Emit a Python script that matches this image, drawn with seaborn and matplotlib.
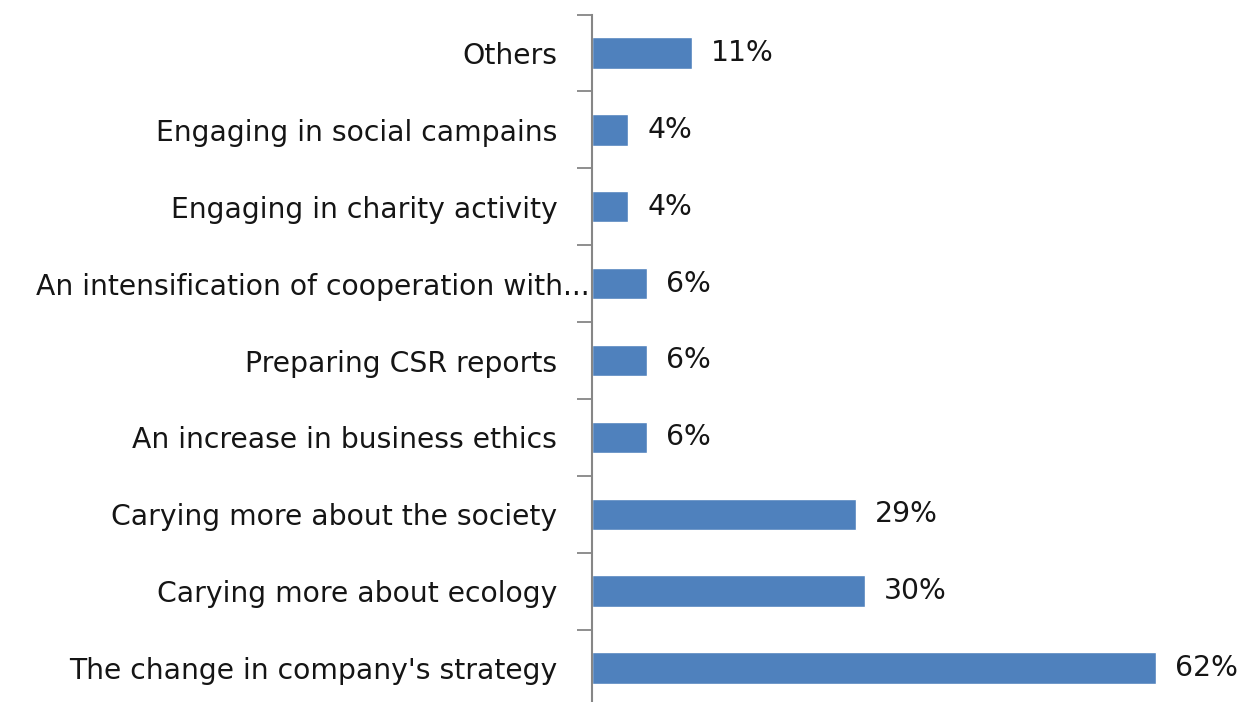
import matplotlib
matplotlib.use("Agg")
import matplotlib.pyplot as plt
import matplotlib.transforms as mtransforms
import seaborn as sns
import pandas as pd
import numpy as np

categories = [
    "Others",
    "Engaging in social campains",
    "Engaging in charity activity",
    "An intensification of cooperation with...",
    "Preparing CSR reports",
    "An increase in business ethics",
    "Carying more about the society",
    "Carying more about ecology",
    "The change in company's strategy",
]
values = [11, 4, 4, 6, 6, 6, 29, 30, 62]

df = pd.DataFrame({"category": categories, "value": values})

sns.set_theme(style="white")
plt.rcParams["font.family"] = ["DejaVu Sans"]

fig = plt.figure(figsize=(12.53, 7.02), dpi=100)
ax = fig.add_axes([592 / 1253, -4.5 / 702, 637 / 1253, 692 / 702])

sns.barplot(data=df, y="category", x="value", orient="h", color="#4F81BD",
            width=0.41, saturation=1, ax=ax)

n = len(categories)
ax.set_xlim(0, 70)
ax.set_ylim(n - 0.5, -0.5)
ax.set_xlabel("")
ax.set_ylabel("")
ax.set_xticks([])

for s in ["top", "right", "bottom"]:
    ax.spines[s].set_visible(False)
ax.spines["left"].set_color("#868686")
ax.spines["left"].set_linewidth(1.5)

# boundary ticks between categories, labels at centers
ax.set_yticks(np.arange(-0.5, n, 1.0), minor=True)
ax.tick_params(axis="y", which="minor", left=True, length=11, width=1.3,
               color="#868686")
ax.tick_params(axis="y", which="major", left=False, length=0, pad=25,
               labelsize=20.3, labelcolor="#151515")

for lbl in ax.get_yticklabels():
    if lbl.get_text().startswith("An intensification"):
        lbl.set_transform(lbl.get_transform() +
                          mtransforms.ScaledTranslation(32 / 100, 0, fig.dpi_scale_trans))

for i, v in enumerate(values):
    ax.annotate(f"{v}%", xy=(v, i), xytext=(19, 0), textcoords="offset pixels",
                ha="left", va="center", fontsize=20.3, color="#151515")

fig.savefig("out.png", dpi=100, facecolor="white")
